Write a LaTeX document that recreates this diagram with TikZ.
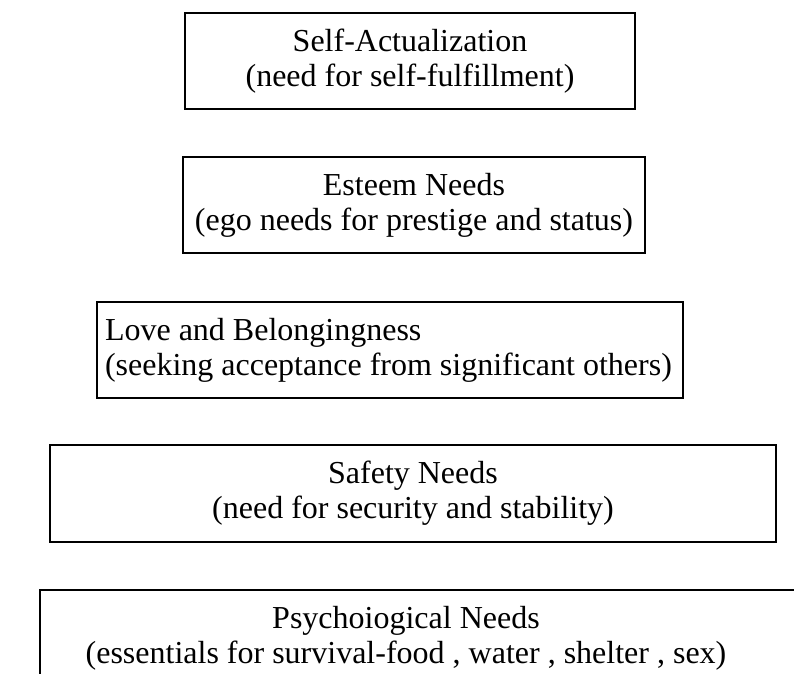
\documentclass[tikz,border=0pt]{standalone}
\usepackage{fontspec}
\setmainfont{Liberation Serif}
\begin{document}
\begin{tikzpicture}[x=0.5pt, y=-0.5pt]
        \tikzstyle{level}=[draw, line width=0.7pt, inner sep=0pt, minimum height=48pt, align=center, font=\fontsize{16}{17.5}\selectfont]
        \tikzstyle{label}=[inner sep=0pt, align=center, font=\fontsize{16}{17.5}\selectfont]
        \useasboundingbox (0,0) rectangle (794,674);
        \clip (0,0) rectangle (794,674);

        \node[level, minimum width=225pt] (selfact) at (410,61) {Self-Actualization\\(need for self-fulfillment)};
        \node[level, minimum width=231pt] (esteem) at (414,205) {Esteem Needs\\(ego needs for prestige and status)};
        \node[level, align=flush left, text width=285pt, inner xsep=4pt] (love) at (390,350) {Love and Belongingness\\(seeking acceptance from significant others)};
        \node[level, minimum width=363pt, minimum height=48.5pt] (safety) at (413,493.5) {Safety Needs\\(need for security and stability)};

        % unterste Stufe, rechts und unten abgeschnitten
        \node[level, minimum width=430pt, minimum height=60pt] (physbox) at (470,650) {};
        \node[label] (phys) at (406,638) {Psychoiogical Needs\\(essentials for survival-food , water , shelter , sex)};
\end{tikzpicture}
\end{document}
